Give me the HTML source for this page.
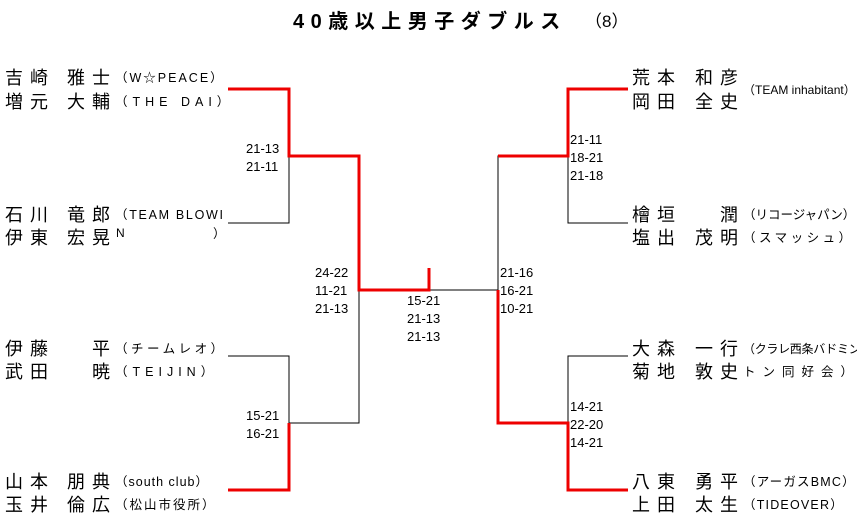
<!DOCTYPE html>
<html><head><meta charset="utf-8"><style>
body{margin:0;width:857px;height:516px;background:#fff;position:relative;overflow:hidden;font-family:"Liberation Sans","Noto Sans CJK JP",sans-serif;color:#000}
.a{position:absolute;white-space:nowrap;line-height:1}
.n{font-size:18px;letter-spacing:7px}
.f{font-size:12.5px;letter-spacing:2px}
.s{font-size:13px;line-height:18px}
</style></head><body>
<svg width="857" height="516" style="position:absolute;left:0;top:0">
<g fill="none" stroke="#000" stroke-width="1">
<path d="M228 223H289V156"/>
<path d="M359 290V423H289V356H228"/>
<path d="M429 290H498V156H568V223H628"/>
<path d="M498 423H568V356H628"/>
</g>
<g fill="none" stroke="#e00" stroke-width="3">
<path d="M228 89H289V156H359V290H429V268"/>
<path d="M228 490H289V423"/>
<path d="M628 89H568V156H498"/>
<path d="M498 290V423H568V490H628"/>
</g>
</svg>
<div class="a" style="left:293px;top:12px;font-size:20px;font-weight:bold;letter-spacing:6.5px">40歳以上男子ダブルス</div>
<div class="a" style="left:585px;top:13px;font-size:17px">（8）</div>

<div class="a n" style="left:5px;top:69px">吉崎</div><div class="a n" style="left:67px;top:69px">雅士</div>
<div class="a f" style="left:115px;top:72px">（W☆PEACE）</div>
<div class="a n" style="left:5px;top:93px">増元</div><div class="a n" style="left:67px;top:93px">大輔</div>
<div class="a f" style="left:115px;top:96px;letter-spacing:5px">（THE DAI）</div>

<div class="a n" style="left:5px;top:206px">石川</div><div class="a n" style="left:67px;top:206px">竜郎</div>
<div class="a f" style="left:115px;top:209px;letter-spacing:1.7px">（TEAM BLOWI</div>
<div class="a n" style="left:5px;top:229px">伊東</div><div class="a n" style="left:67px;top:229px">宏晃</div>
<div class="a" style="left:116px;top:227px;font-size:12px">N</div>
<div class="a f" style="left:213px;top:228px">）</div>

<div class="a n" style="left:5px;top:340px">伊藤</div><div class="a n" style="left:92px;top:340px">平</div>
<div class="a f" style="left:115px;top:343px;letter-spacing:3.5px">（チームレオ）</div>
<div class="a n" style="left:5px;top:363px">武田</div><div class="a n" style="left:92px;top:363px">暁</div>
<div class="a f" style="left:115px;top:366px;letter-spacing:5px">（TEIJIN）</div>

<div class="a n" style="left:5px;top:473px">山本</div><div class="a n" style="left:67px;top:473px">朋典</div>
<div class="a f" style="left:115px;top:476px;letter-spacing:1px">（south club）</div>
<div class="a n" style="left:5px;top:496px">玉井</div><div class="a n" style="left:67px;top:496px">倫広</div>
<div class="a f" style="left:115px;top:499px;letter-spacing:2px">（松山市役所）</div>

<div class="a n" style="left:632px;top:69px">荒本</div><div class="a n" style="left:695px;top:69px">和彦</div>
<div class="a" style="left:743px;top:84px;font-size:12px">（TEAM inhabitant）</div>
<div class="a n" style="left:632px;top:93px">岡田</div><div class="a n" style="left:695px;top:93px">全史</div>

<div class="a n" style="left:632px;top:206px">檜垣</div><div class="a n" style="left:720px;top:206px">潤</div>
<div class="a" style="left:743px;top:209px;font-size:12.5px">（リコージャパン）</div>
<div class="a n" style="left:632px;top:229px">塩出</div><div class="a n" style="left:695px;top:229px">茂明</div>
<div class="a f" style="left:743px;top:232px;letter-spacing:3.5px">（スマッシュ）</div>

<div class="a n" style="left:632px;top:340px">大森</div><div class="a n" style="left:695px;top:340px">一行</div>
<div class="a" style="left:743px;top:343px;font-size:12px;letter-spacing:-0.3px">（クラレ西条バドミン</div>
<div class="a n" style="left:632px;top:363px">菊地</div><div class="a n" style="left:695px;top:363px">敦史</div>
<div class="a f" style="left:743px;top:366px;letter-spacing:7px">トン同好会）</div>

<div class="a n" style="left:632px;top:473px">八東</div><div class="a n" style="left:695px;top:473px">勇平</div>
<div class="a f" style="left:743px;top:476px;letter-spacing:1.2px">（アーガスBMC）</div>
<div class="a n" style="left:632px;top:496px">上田</div><div class="a n" style="left:695px;top:496px">太生</div>
<div class="a f" style="left:743px;top:499px;letter-spacing:1.2px">（TIDEOVER）</div>

<div class="a s" style="left:246px;top:140px">21-13<br>21-11</div>
<div class="a s" style="left:246px;top:407px">15-21<br>16-21</div>
<div class="a s" style="left:315px;top:264px">24-22<br>11-21<br>21-13</div>
<div class="a s" style="left:407px;top:292px">15-21<br>21-13<br>21-13</div>
<div class="a s" style="left:500px;top:264px">21-16<br>16-21<br>10-21</div>
<div class="a s" style="left:570px;top:131px">21-11<br>18-21<br>21-18</div>
<div class="a s" style="left:570px;top:398px">14-21<br>22-20<br>14-21</div>
</body></html>
